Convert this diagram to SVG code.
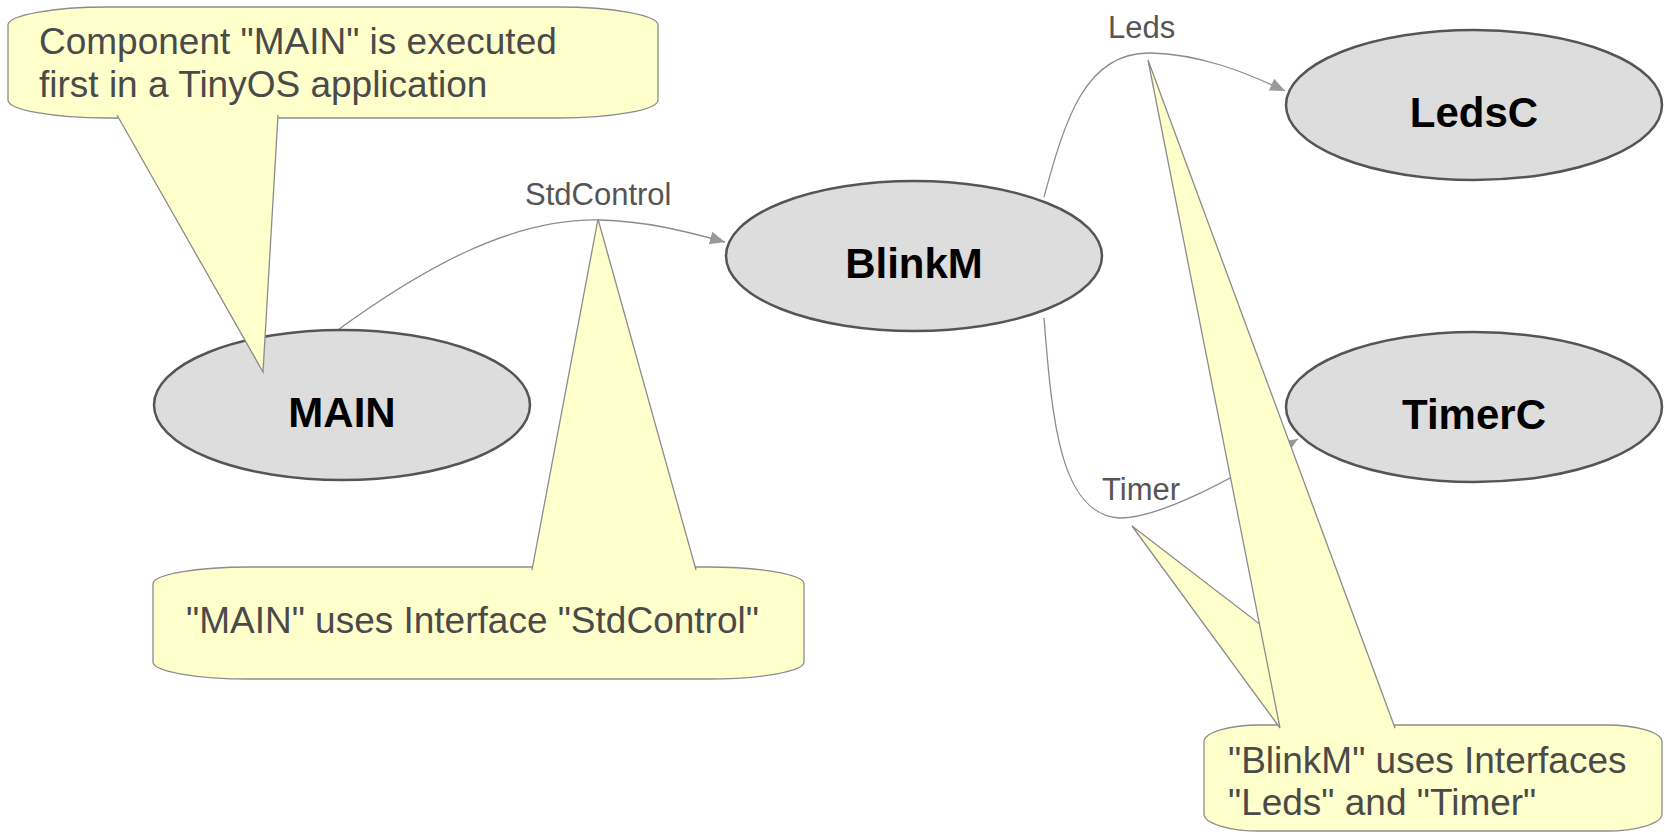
<svg xmlns="http://www.w3.org/2000/svg" width="1665" height="834" viewBox="0 0 1665 834">
<defs>
<style>
.node{fill:#dddddd;stroke:#555555;stroke-width:2.5}
.nlabel{font-family:"Liberation Sans",Arial,sans-serif;font-weight:bold;font-size:42px;fill:#000000;text-anchor:middle}
.edge{fill:none;stroke:#8c8c8c;stroke-width:1.3}
.elabel{font-family:"Liberation Sans",Arial,sans-serif;font-size:31px;fill:#555555}
.callout{fill:#ffffcc;stroke:#8c8c8c;stroke-width:1.3}
.ctext{font-family:"Liberation Sans",Arial,sans-serif;font-size:37px;fill:#4a4a4a}
</style>
<marker id="arrow" viewBox="0 0 15 13" refX="15" refY="6.5" markerWidth="15" markerHeight="13" markerUnits="userSpaceOnUse" orient="auto">
<path d="M0,0 L15,6.5 L0,13 Z" fill="#999999"/>
</marker>
</defs>
<rect width="1665" height="834" fill="#ffffff"/>

<g id="connectors">
<path class="edge" d="M335,332 C420,270 510,218 600,220 C645,221 685,231 725,242" marker-end="url(#arrow)"/>
<path class="edge" d="M1044,197 C1065,120 1085,52 1150,53 C1200,54 1245,72 1285,91" marker-end="url(#arrow)"/>
<path class="edge" d="M1044,318 C1052,420 1060,515 1120,518 C1160,518 1230,480 1298,439" marker-end="url(#arrow)"/>
<text class="elabel" x="525" y="205">StdControl</text>
<text class="elabel" x="1108" y="38">Leds</text>
<text class="elabel" x="1102" y="500">Timer</text>
</g>

<g id="node-main">
<ellipse class="node" cx="342" cy="405" rx="188" ry="75"/>
<text class="nlabel" x="342" y="427">MAIN</text>
</g>
<g id="node-blinkm">
<ellipse class="node" cx="914" cy="256" rx="188" ry="75"/>
<text class="nlabel" x="914" y="278">BlinkM</text>
</g>
<g id="node-ledsc">
<ellipse class="node" cx="1474" cy="105" rx="188" ry="75"/>
<text class="nlabel" x="1474" y="127">LedsC</text>
</g>
<g id="node-timerc">
<ellipse class="node" cx="1474" cy="407" rx="188" ry="75"/>
<text class="nlabel" x="1474" y="429">TimerC</text>
</g>

<g id="callout-main">
<path class="callout" d="M108,7 H558 A100 18 0 0 1 658,25 V100 A100 18 0 0 1 558,118 H108 A100 18 0 0 1 8,100 V25 A100 18 0 0 1 108,7 Z"/>
<path class="callout" d="M117,115 L263,372 L278,115"/>
<text class="ctext" x="39" y="54">Component "MAIN" is executed</text>
<text class="ctext" x="39" y="97">first in a TinyOS application</text>
</g>

<g id="callout-stdcontrol">
<path class="callout" d="M250,567 H707 A97 17 0 0 1 804,584 V662 A97 17 0 0 1 707,679 H250 A97 17 0 0 1 153,662 V584 A97 17 0 0 1 250,567 Z"/>
<path class="callout" d="M532,570 L598,219 L696,570"/>
<text class="ctext" x="186" y="633">"MAIN" uses Interface "StdControl"</text>
</g>

<g id="callout-blinkm">
<path class="callout" d="M1260,725 H1606 A56 17 0 0 1 1662,742 V814 A56 17 0 0 1 1606,831 H1260 A56 17 0 0 1 1204,814 V742 A56 17 0 0 1 1260,725 Z"/>
<path class="callout" d="M1280,728 L1132,526 L1395,728"/>
<path class="callout" d="M1280,728 L1148,60 L1395,728"/>
<text class="ctext" x="1228" y="773">"BlinkM" uses Interfaces</text>
<text class="ctext" x="1228" y="815">"Leds" and "Timer"</text>
</g>
</svg>
